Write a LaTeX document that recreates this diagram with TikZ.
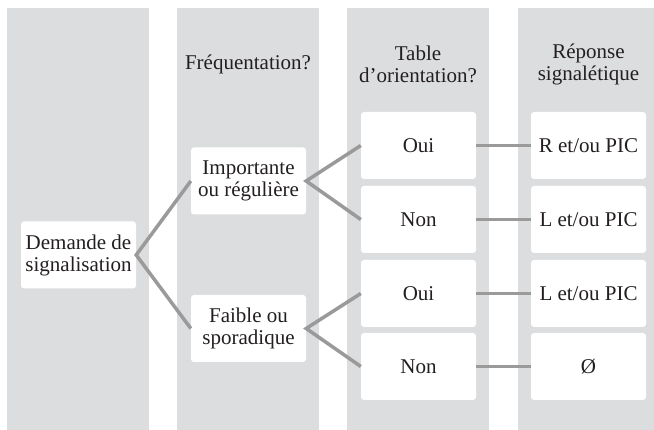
\documentclass[tikz,border=0pt]{standalone}
\usepackage{fontspec}
\setmainfont{Liberation Serif}
\definecolor{colgrey}{HTML}{DCDDDF}
\definecolor{linegrey}{HTML}{9A9A9A}
\definecolor{txt}{HTML}{231F20}
\begin{document}
\begin{tikzpicture}[x=1pt,y=1pt,
  colbg/.style={fill=colgrey,draw=none},
  box/.style={fill=white,draw=none,rounded corners=3pt,minimum width=115pt,minimum height=67pt,
    inner sep=0pt,align=center,text=txt,font=\fontsize{21}{22}\selectfont},
  head/.style={align=center,text=txt,font=\fontsize{21}{22}\selectfont,inner sep=0pt},
  conn/.style={draw=linegrey,line width=3.5pt}]
\useasboundingbox (0,0) rectangle (654,430);
\fill[white] (0,0) rectangle (654,430);
\path[colbg] (7,0) rectangle (149,422);
\path[colbg] (177,0) rectangle (319,422);
\path[colbg] (347,0) rectangle (489,422);
\path[colbg] (518,0) rectangle (654,422);
\node[head] (h2) at (248,366) {Fréquentation?};
\node[head] (h3) at (418,366) {Table\\d’orientation?};
\node[head] (h4) at (588.5,366) {Réponse\\signalétique};
\node[box] (dem) at (78.5,175) {Demande de\\signalisation};
\node[box] (imp) at (248.5,249) {Importante\\ou régulière};
\node[box] (fai) at (248.5,101.5) {Faible ou\\sporadique};
\node[box] (o1) at (418.5,284.5) {Oui};
\node[box] (n1) at (418.5,210.5) {Non};
\node[box] (o2) at (418.5,136.5) {Oui};
\node[box] (n2) at (418.5,63.5) {Non};
\node[box] (r1) at (588.5,284.5) {R et/ou PIC};
\node[box] (r2) at (588.5,210.5) {L et/ou PIC};
\node[box] (r3) at (588.5,136.5) {L et/ou PIC};
\node[box] (r4) at (588.5,63.5) {Ø};
\draw[conn] (imp.west) -- (dem.east) -- (fai.west);
\draw[conn] (o1.west) -- (imp.east) -- (n1.west);
\draw[conn] (o2.west) -- (fai.east) -- (n2.west);
\draw[conn] (o1) -- (r1);
\draw[conn] (n1) -- (r2);
\draw[conn] (o2) -- (r3);
\draw[conn] (n2) -- (r4);
\end{tikzpicture}
\end{document}
